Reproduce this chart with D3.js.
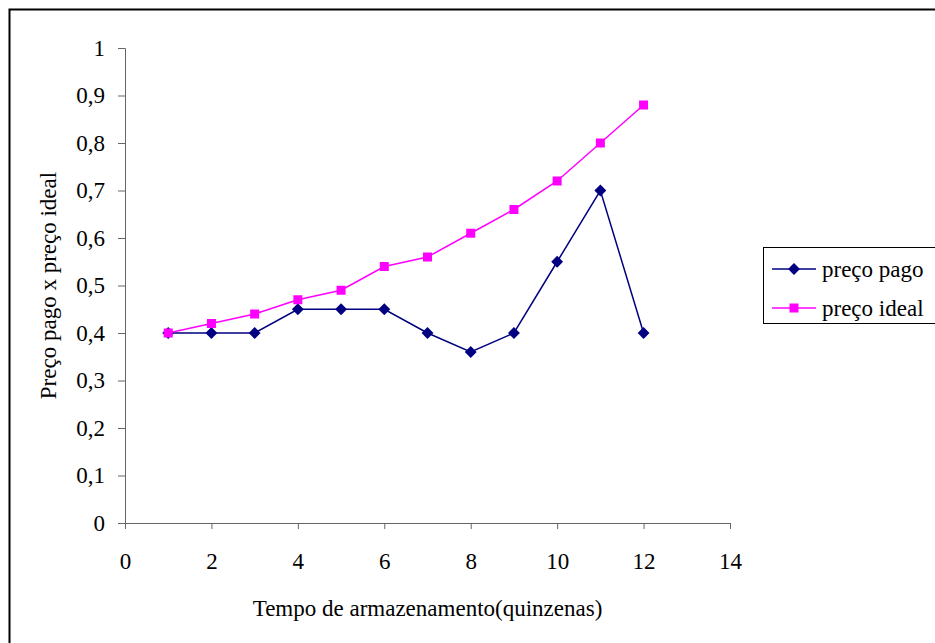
<!DOCTYPE html>
<html>
<head>
<meta charset="utf-8">
<script src="https://cdn.jsdelivr.net/npm/d3@7"></script>
<style>
  body { margin: 0; background: #fff; }
  svg { display: block; font-family: "Liberation Serif", "Times New Roman", serif; }
  .axis path, .axis line { stroke: #666; }
</style>
</head>
<body>
<div id="chart"></div>
<script>
// data
const quinzenas = [1, 2, 3, 4, 5, 6, 7, 8, 9, 10, 11, 12];
const precoPago = [0.4, 0.4, 0.4, 0.45, 0.45, 0.45, 0.4, 0.36, 0.4, 0.55, 0.7, 0.4];
const precoIdeal = [0.4, 0.42, 0.44, 0.47, 0.49, 0.54, 0.56, 0.61, 0.66, 0.72, 0.8, 0.88];
const xTicks = [0, 2, 4, 6, 8, 10, 12, 14];
const yTicks = [0, 0.1, 0.2, 0.3, 0.4, 0.5, 0.6, 0.7, 0.8, 0.9, 1];
const seriesNames = ['preço pago', 'preço ideal'];

const W = 935, H = 643;
const margin = { top: 48, left: 125, right: 205, bottom: 120 };
const width = W - margin.left - margin.right;
const height = H - margin.top - margin.bottom;
const fontSize = '23px';
const fontFamily = '"Liberation Serif", "Times New Roman", serif';

const svg = d3.select('#chart').append('svg')
  .attr('width', W)
  .attr('height', H);

// outer frame
svg.append('rect')
  .attr('x', 9.5).attr('y', 9.5)
  .attr('width', W).attr('height', H)
  .attr('fill', 'none')
  .attr('stroke', '#000')
  .attr('stroke-width', 2);

const g = svg.append('g')
  .attr('transform', `translate(${margin.left}, ${margin.top})`);

const x = d3.scaleLinear().domain([0, 14]).range([0, width]);
const y = d3.scaleLinear().domain([0, 1]).range([height, 0]);
const fmt = d => String(d).replace('.', ',');

const xAxis = g.append('g')
  .attr('class', 'axis axis-x')
  .attr('transform', `translate(0, ${height})`)
  .call(d3.axisBottom(x).tickValues(xTicks).tickSize(6).tickSizeOuter(6).tickPadding(24).tickFormat(fmt));

const yAxis = g.append('g')
  .attr('class', 'axis axis-y')
  .call(d3.axisLeft(y).tickValues(yTicks).tickSize(7).tickSizeOuter(7).tickPadding(13).tickFormat(fmt));

[xAxis, yAxis].forEach(a => {
  a.attr('font-family', fontFamily).attr('font-size', null);
  a.selectAll('text')
    .style('font-family', fontFamily)
    .style('font-size', fontSize)
    .attr('fill', '#000');
});

const series = [
  { name: seriesNames[0], values: precoPago, color: '#000080', symbol: d3.symbolDiamond2, size: 90 },
  { name: seriesNames[1], values: precoIdeal, color: '#FF00FF', symbol: d3.symbolSquare, size: 81 }
];

const line = d3.line()
  .x(d => x(d[0]))
  .y(d => y(d[1]));

series.forEach(s => {
  const pts = quinzenas.map((q, i) => [q, s.values[i]]);
  g.append('path')
    .datum(pts)
    .attr('fill', 'none')
    .attr('stroke', s.color)
    .attr('stroke-width', 1.5)
    .attr('d', line);
  g.selectAll(null)
    .data(pts)
    .enter()
    .append('path')
    .attr('transform', d => `translate(${x(d[0])}, ${y(d[1])})`)
    .attr('d', d3.symbol().type(s.symbol).size(s.size))
    .attr('fill', s.color);
});

// axis titles
svg.append('text')
  .attr('x', margin.left + width / 2)
  .attr('y', 616)
  .attr('text-anchor', 'middle')
  .style('font-size', fontSize)
  .text('Tempo de armazenamento(quinzenas)');

svg.append('text')
  .attr('transform', `translate(56, ${margin.top + height / 2}) rotate(-90)`)
  .attr('text-anchor', 'middle')
  .style('font-size', fontSize)
  .text('Preço pago x preço ideal');

// legend
const legend = svg.append('g').attr('transform', 'translate(763, 247)');
legend.append('rect')
  .attr('x', 0.5).attr('y', 0.5)
  .attr('width', 200).attr('height', 76)
  .attr('fill', '#fff')
  .attr('stroke', '#000')
  .attr('stroke-width', 1);

series.forEach((s, i) => {
  const ly = 22 + i * 39;
  legend.append('line')
    .attr('x1', 9).attr('x2', 53)
    .attr('y1', ly).attr('y2', ly)
    .attr('stroke', s.color)
    .attr('stroke-width', 1.5);
  legend.append('path')
    .attr('transform', `translate(31, ${ly})`)
    .attr('d', d3.symbol().type(s.symbol).size(s.size))
    .attr('fill', s.color);
  legend.append('text')
    .attr('x', 59)
    .attr('y', ly + 8)
    .style('font-size', fontSize)
    .text(s.name);
});
</script>
</body>
</html>
